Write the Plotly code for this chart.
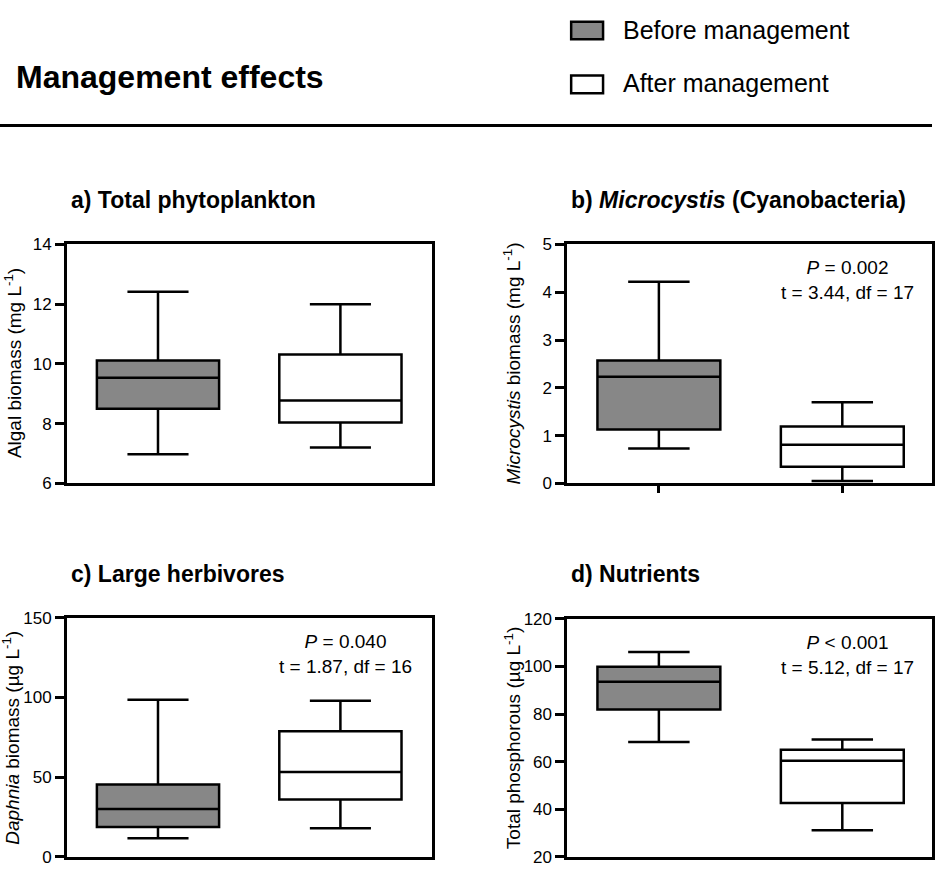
import plotly.graph_objects as go

W, H = 935, 875
FONT = "Liberation Sans, Arial, Helvetica, sans-serif"

# ---------------- data ----------------
groups = ["Before management", "After management"]
positions = [0, 1]
fill_colors = ["#878787", "#ffffff"]

# a) Total phytoplankton (mg L-1)
a_low = [6.98, 7.20]
a_q1 = [8.50, 8.04]
a_med = [9.54, 8.78]
a_q3 = [10.12, 10.32]
a_high = [12.42, 12.00]

# b) Microcystis (mg L-1)
b_low = [0.73, 0.05]
b_q1 = [1.13, 0.35]
b_med = [2.23, 0.81]
b_q3 = [2.57, 1.19]
b_high = [4.22, 1.70]

# c) Daphnia (ug L-1)
c_low = [11.7, 18.0]
c_q1 = [18.8, 36.0]
c_med = [30.1, 53.2]
c_q3 = [45.4, 78.8]
c_high = [98.6, 98.0]

# d) Total phosphorous (ug L-1)
d_low = [68.2, 31.2]
d_q1 = [81.9, 42.6]
d_med = [93.6, 60.4]
d_q3 = [99.8, 65.0]
d_high = [106.0, 69.3]

a_ticks = [6, 8, 10, 12, 14]
b_ticks = [0, 1, 2, 3, 4, 5]
c_ticks = [0, 50, 100, 150]
d_ticks = [20, 40, 60, 80, 100, 120]

panel_titles = ["a) Total phytoplankton",
                "b) <i>Microcystis</i> (Cyanobacteria)",
                "c) Large herbivores",
                "d) Nutrients"]
y_titles = ["Algal biomass (mg L<sup>-1</sup>)",
            "<i>Microcystis</i> biomass (mg L<sup>-1</sup>)",
            "<i>Daphnia</i> biomass (µg L<sup>-1</sup>)",
            "Total phosphorous (µg L<sup>-1</sup>)"]
stats = [None,
         "<i>P</i> = 0.002<br>t = 3.44, df = 17",
         "<i>P</i> = 0.040<br>t = 1.87, df = 16",
         "<i>P</i> < 0.001<br>t = 5.12, df = 17"]

# ---------------- helpers ----------------
def px(x):
    return x / W

def py(y):
    return 1 - y / H

LW = 2.5

fig = go.Figure()

panels = [
    (a_low, a_q1, a_med, a_q3, a_high),
    (b_low, b_q1, b_med, b_q3, b_high),
    (c_low, c_q1, c_med, c_q3, c_high),
    (d_low, d_q1, d_med, d_q3, d_high),
]
for p, (lo, q1, med, q3, hi) in enumerate(panels):
    xa = "x" if p == 0 else f"x{p+1}"
    ya = "y" if p == 0 else f"y{p+1}"
    for g in range(2):
        fig.add_trace(go.Box(
            x=[positions[g]], q1=[q1[g]], median=[med[g]], q3=[q3[g]],
            lowerfence=[lo[g]], upperfence=[hi[g]],
            name=groups[g], showlegend=False, boxpoints=False,
            width=0.67, whiskerwidth=0.5,
            fillcolor=fill_colors[g], line=dict(color="black", width=LW),
            xaxis=xa, yaxis=ya,
        ))

# axes geometry (pixels)
geo = [
    dict(x=(67, 433), y=(240.7, 485), xr=[-0.5, 1.5], yr=[6, 14], ticks=a_ticks, xt=False),
    dict(x=(569, 935), y=(240.7, 485), xr=[-0.5, 1.489], yr=[0, 5], ticks=b_ticks, xt=True),
    dict(x=(67, 433), y=(622.3, 866.7), xr=[-0.5, 1.5], yr=[0, 150], ticks=c_ticks, xt=False),
    dict(x=(569, 935), y=(623.3, 866.7), xr=[-0.5, 1.489], yr=[20, 120], ticks=d_ticks, xt=False),
]

layout = dict(
    width=W, height=H,
    margin=dict(l=0, r=0, t=0, b=0),
    paper_bgcolor="white", plot_bgcolor="white",
    boxmode="overlay",
    font=dict(family=FONT, color="black"),
    showlegend=False,
)
for p, gd in enumerate(geo):
    xk = "xaxis" if p == 0 else f"xaxis{p+1}"
    yk = "yaxis" if p == 0 else f"yaxis{p+1}"
    layout[xk] = dict(
        domain=[px(gd["x"][0]), px(gd["x"][1])], range=gd["xr"],
        anchor="y" if p == 0 else f"y{p+1}",
        showline=True, linecolor="black", linewidth=LW, mirror=True,
        showgrid=False, zeroline=False, showticklabels=False,
        tickvals=positions, ticks="outside" if gd["xt"] else "",
        ticklen=7, tickwidth=LW, tickcolor="black", fixedrange=True,
    )
    layout[yk] = dict(
        domain=[py(gd["y"][1]), py(gd["y"][0])], range=gd["yr"],
        anchor="x" if p == 0 else f"x{p+1}",
        showline=True, linecolor="black", linewidth=LW, mirror=True,
        showgrid=False, zeroline=False,
        tickvals=gd["ticks"], ticktext=[str(t) for t in gd["ticks"]],
        ticks="outside", ticklen=9, tickwidth=LW, tickcolor="black",
        tickfont=dict(size=17, family=FONT, color="black"), fixedrange=True,
    )

annotations = []
shapes = []

# main title
annotations.append(dict(text="<b>Management effects</b>", x=px(14), y=py(70),
                        xref="paper", yref="paper", xanchor="left", yanchor="middle",
                        showarrow=False, font=dict(size=32, family=FONT)))
# legend
leg_y = [22, 77]
for g in range(2):
    shapes.append(dict(type="rect", xref="paper", yref="paper",
                       x0=px(573), x1=px(605), y0=py(leg_y[g] - 9), y1=py(leg_y[g] + 9),
                       fillcolor=fill_colors[g], line=dict(color="black", width=LW)))
    annotations.append(dict(text=groups[g], x=px(623), y=py(leg_y[g] - 1),
                            xref="paper", yref="paper", xanchor="left", yanchor="middle",
                            showarrow=False, font=dict(size=25, family=FONT)))
# separator line
shapes.append(dict(type="line", xref="paper", yref="paper", x0=0, x1=1,
                   y0=py(119), y1=py(119), line=dict(color="black", width=3)))

# panel titles
title_pos = [(69, 195), (571, 195), (69, 578), (571, 578)]
for p in range(4):
    annotations.append(dict(text=f"<b>{panel_titles[p]}</b>", x=px(title_pos[p][0]),
                            y=py(title_pos[p][1]), xref="paper", yref="paper",
                            xanchor="left", yanchor="middle", showarrow=False,
                            font=dict(size=23, family=FONT)))
# y titles
ytitle_pos = [(13, 362), (514, 362), (11, 745), (514, 745)]
for p in range(4):
    annotations.append(dict(text=y_titles[p], x=px(ytitle_pos[p][0]), y=py(ytitle_pos[p][1]),
                            xref="paper", yref="paper", xanchor="center", yanchor="middle",
                            textangle=-90, showarrow=False, font=dict(size=19, family=FONT)))
# stats text
stat_pos = [None, (850, 277), (347, 659), (850, 660)]
for p in range(4):
    if stats[p]:
        annotations.append(dict(text=stats[p], x=px(stat_pos[p][0]), y=py(stat_pos[p][1]),
                                xref="paper", yref="paper", xanchor="center", yanchor="middle",
                                align="center", showarrow=False,
                                font=dict(size=19, family=FONT)))

layout["annotations"] = annotations
layout["shapes"] = shapes
fig.update_layout(**layout)

fig.write_html("out.html", config={"displayModeBar": False},
               post_script="document.body.style.margin='0';document.body.style.padding='0';"
                           "document.documentElement.style.overflow='hidden';")
